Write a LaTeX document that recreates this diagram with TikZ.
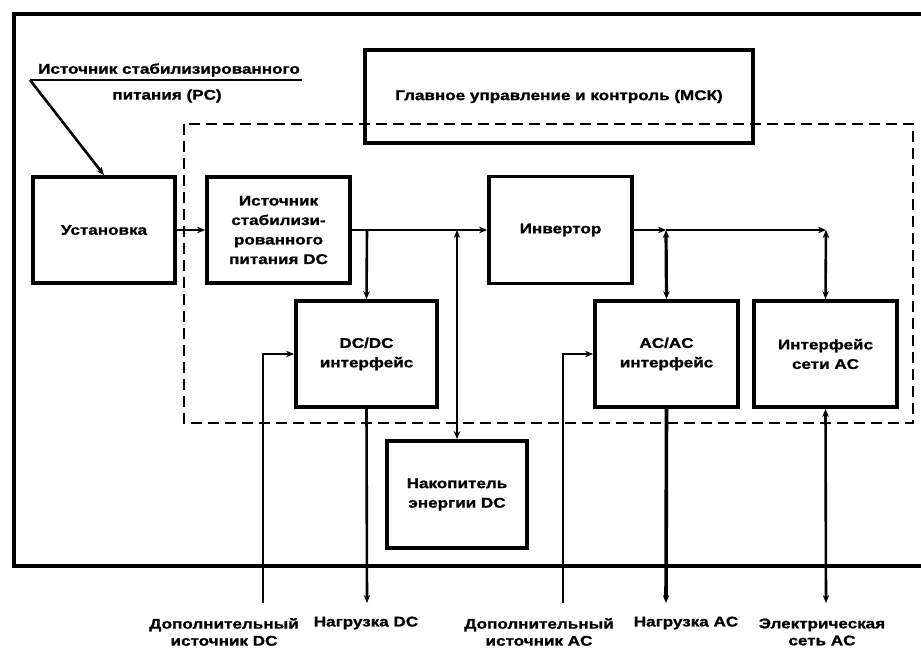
\documentclass[tikz,border=0pt]{standalone}
\usepackage{fontspec}
\setmainfont{Liberation Sans}[FakeStretch=1.22, BoldFeatures={FakeBold=1.2}]
\usetikzlibrary{arrows.meta}
\begin{document}
\begin{tikzpicture}[x=1pt,y=-1pt,
  box/.style={draw, line width=3.8pt, inner sep=0pt, align=center,
    font=\bfseries\fontsize{14}{19.5}\selectfont},
  lbl/.style={inner sep=0pt, align=center,
    font=\bfseries\fontsize{14}{17}\selectfont},
  conn/.style={line width=2.6pt, >={Stealth[length=8pt,width=6.5pt]}},
  frame/.style={line width=3.8pt},
  dashframe/.style={line width=2.4pt, dash pattern=on 11pt off 6pt}]
\useasboundingbox (0,0) rectangle (921,650);
\clip (0,0) rectangle (921,650);

% outer frame (continues past the right edge)
\draw[frame] (940,14) -- (14,14) -- (14,566) -- (940,566);

% dashed frame
\draw[dashframe] (184,124) rectangle (913,423);

% boxes
\node[box, minimum width=388pt, minimum height=93pt] (mck) at (559,96.5) {Главное управление и контроль (МСК)};
\node[box, minimum width=142pt, minimum height=106pt] (ust) at (104,230) {Установка};
\node[box, minimum width=143pt, minimum height=106pt] (src) at (278.5,230) {Источник\\стабилизи-\\рованного\\питания DC};
\node[box, minimum width=143pt, minimum height=107pt] (inv) at (560.5,230) {Инвертор};
\node[box, minimum width=141pt, minimum height=106pt] (dcdc) at (366.5,354) {DC/DC\\интерфейс};
\node[box, minimum width=143pt, minimum height=106pt] (acac) at (666.5,354) {AC/AC\\интерфейс};
\node[box, minimum width=143pt, minimum height=106pt] (grid) at (825.5,354) {Интерфейс\\сети AC};
\node[box, minimum width=140pt, minimum height=107pt] (stor) at (457,494.5) {Накопитель\\энергии DC};

% top-left label
\node[lbl] (pc1) at (169,70) {Источник стабилизированного};
\node[lbl] (pc2) at (167,96) {питания (PC)};
\coordinate (ul) at (30,80);
\coordinate (ur) at (302,80);
\draw[line width=2.2pt] (ul) -- (ur);
\draw[conn,->] (ul) -- (ust.north);

% main chain
\coordinate (j1) at (367,230);
\coordinate (j2) at (457,230);
\coordinate (j3) at (666,230);
\coordinate (j4) at (826,230);
\draw[conn,->] (ust.east) -- (src.west);
\draw[conn,->] (src.east) -- (inv.west);
\draw[conn,->] (j1) -- (dcdc.north);
\draw[conn,<->] (j2) -- (stor.north);
\draw[conn,->] (inv.east) -- (j3);
\draw[conn,->] (j3) -- (j4);
\draw[conn,<->,line width=3.2pt] (j3) -- (acac.north);
\draw[conn,<->] (j4) -- (grid.north);

% bottom connectors
\coordinate (adc) at (263,603);
\coordinate (ldc) at (367,603);
\coordinate (aac) at (563,603);
\coordinate (lac) at (666,603);
\coordinate (gac) at (826,603);
\draw[conn,->] (adc) |- (dcdc.west);
\draw[conn,->] (dcdc.south) -- (ldc);
\draw[conn,->] (aac) |- (acac.west);
\draw[conn,->,line width=3.6pt] (acac.south) -- (lac);
\draw[conn,<->] (grid.south) -- (gac);

% bottom labels
\node[lbl] (tadc) at (224,632) {Дополнительный\\источник DC};
\node[lbl] (tldc) at (366,623) {Нагрузка DC};
\node[lbl] (taac) at (539,632) {Дополнительный\\источник AC};
\node[lbl] (tlac) at (686,623) {Нагрузка AC};
\node[lbl] (tgac) at (822,632) {Электрическая\\сеть AC};
\end{tikzpicture}
\end{document}
